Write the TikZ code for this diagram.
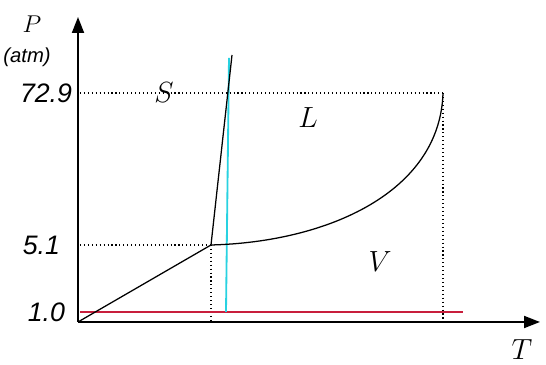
\documentclass[tikz,border=0pt]{standalone}
\usepackage{fontspec}
\newfontfamily\axisfont{Liberation Sans}
\usetikzlibrary{arrows.meta}
\definecolor{oneatm}{RGB}{200,30,60}
\definecolor{meltline}{RGB}{40,210,225}

\begin{document}
\begin{tikzpicture}[x=0.025cm, y=0.025cm, every node/.style={font=\huge},
    axis/.style={line width=1.3pt, -{Triangle[length=0.4cm,width=0.3cm]}},
    phase/.style={line width=0.9pt},
    guide/.style={dotted, line width=0.8pt},
    tick/.style={anchor=east, font=\fontsize{19}{22}\selectfont\axisfont\itshape}]
  \useasboundingbox (-78,-43) rectangle (468,322);
  \coordinate (O) at (0,0);
  \coordinate (Ptop) at (0,305);
  \coordinate (Tend) at (462,0);
  \coordinate (tp) at (133,77);
  \coordinate (cp) at (365,229);
  \coordinate (melt) at (154,267);
  % axes
  \draw[axis] (O) -- (Ptop);
  \draw[axis] (O) -- (Tend);
  \node[font=\LARGE] (P) at (-46,298) {$P$};
  \node[font=\Large\axisfont\itshape] (atm) at (-51,265) {(atm)};
  \node (T) at (444,-28) {$T$};
  % pressure ticks
  \node[tick] (p729) at (-1,229) {72.9};
  \node[tick] (p51) at (-13,77) {5.1};
  \node[tick] (p10) at (-8,10) {1.0};
  \coordinate (tpx) at (133,0);
  \coordinate (cpx) at (365,0);
  \draw[guide] (2,229) -- (cp);
  \draw[guide] (2,77) -- (tp);
  \draw[guide] (tp) -- (tpx);
  \draw[guide] (cp) -- (cpx);
  % 1 atm and the melting point
  \coordinate (r1) at (2,10);
  \coordinate (r2) at (385,10);
  \draw[oneatm, line width=1.3pt] (r1) -- (r2);
  \coordinate (c1) at (148,10);
  \coordinate (c2) at (151,264);
  \draw[meltline, line width=1.3pt] (c1) -- (c2);
  % phase boundaries
  \draw[phase] (O) -- (tp);
  \draw[phase] (tp) -- (melt);
  \draw[phase] (tp) .. controls (250,80) and (362,130) .. (cp);
  \node (S) at (86,229) {$S$};
  \node (L) at (230,204) {$L$};
  \node (V) at (302,60) {$V$};
\end{tikzpicture}
\end{document}
